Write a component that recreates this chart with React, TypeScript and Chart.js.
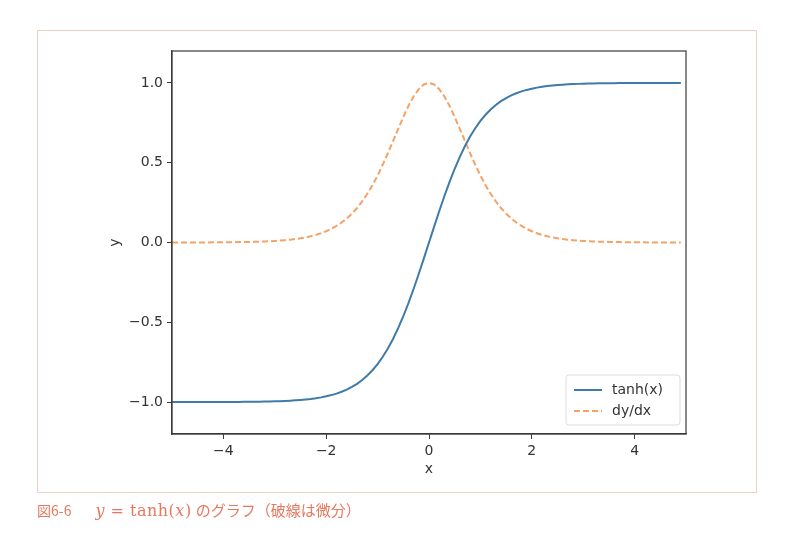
import React, { useEffect, useRef } from "react";
import { Chart, registerables } from "chart.js";

Chart.register(...registerables);

const xValues = [
  -5.0, -4.9, -4.8, -4.7, -4.6, -4.5, -4.4, -4.3, -4.2, -4.1,
  -4.0, -3.9, -3.8, -3.7, -3.6, -3.5, -3.4, -3.3, -3.2, -3.1,
  -3.0, -2.9, -2.8, -2.7, -2.6, -2.5, -2.4, -2.3, -2.2, -2.1,
  -2.0, -1.9, -1.8, -1.7, -1.6, -1.5, -1.4, -1.3, -1.2, -1.1,
  -1.0, -0.9, -0.8, -0.7, -0.6, -0.5, -0.4, -0.3, -0.2, -0.1,
  0.0, 0.1, 0.2, 0.3, 0.4, 0.5, 0.6, 0.7, 0.8, 0.9,
  1.0, 1.1, 1.2, 1.3, 1.4, 1.5, 1.6, 1.7, 1.8, 1.9,
  2.0, 2.1, 2.2, 2.3, 2.4, 2.5, 2.6, 2.7, 2.8, 2.9,
  3.0, 3.1, 3.2, 3.3, 3.4, 3.5, 3.6, 3.7, 3.8, 3.9,
  4.0, 4.1, 4.2, 4.3, 4.4, 4.5, 4.6, 4.7, 4.8, 4.9,
];

const tanhValues = [
  -0.9999, -0.9999, -0.9999, -0.9998, -0.9998, -0.9998, -0.9997, -0.9996, -0.9996, -0.9995,
  -0.9993, -0.9992, -0.999, -0.9988, -0.9985, -0.9982, -0.9978, -0.9973, -0.9967, -0.9959,
  -0.9951, -0.994, -0.9926, -0.991, -0.989, -0.9866, -0.9837, -0.9801, -0.9757, -0.9705,
  -0.964, -0.9562, -0.9468, -0.9354, -0.9217, -0.9051, -0.8854, -0.8617, -0.8337, -0.8005,
  -0.7616, -0.7163, -0.664, -0.6044, -0.537, -0.4621, -0.3799, -0.2913, -0.1974, -0.0997,
  0.0, 0.0997, 0.1974, 0.2913, 0.3799, 0.4621, 0.537, 0.6044, 0.664, 0.7163,
  0.7616, 0.8005, 0.8337, 0.8617, 0.8854, 0.9051, 0.9217, 0.9354, 0.9468, 0.9562,
  0.964, 0.9705, 0.9757, 0.9801, 0.9837, 0.9866, 0.989, 0.991, 0.9926, 0.994,
  0.9951, 0.9959, 0.9967, 0.9973, 0.9978, 0.9982, 0.9985, 0.9988, 0.999, 0.9992,
  0.9993, 0.9995, 0.9996, 0.9996, 0.9997, 0.9998, 0.9998, 0.9998, 0.9999, 0.9999,
];

const dydxValues = [
  0.0002, 0.0002, 0.0003, 0.0003, 0.0004, 0.0005, 0.0006, 0.0007, 0.0009, 0.0011,
  0.0013, 0.0016, 0.002, 0.0024, 0.003, 0.0036, 0.0045, 0.0054, 0.0066, 0.0081,
  0.0099, 0.012, 0.0147, 0.0179, 0.0218, 0.0266, 0.0323, 0.0394, 0.0479, 0.0582,
  0.0707, 0.0856, 0.1035, 0.125, 0.1505, 0.1807, 0.216, 0.2574, 0.305, 0.3592,
  0.42, 0.4869, 0.5591, 0.6347, 0.7116, 0.7864, 0.8556, 0.9151, 0.961, 0.9901,
  1.0, 0.9901, 0.961, 0.9151, 0.8556, 0.7864, 0.7116, 0.6347, 0.5591, 0.4869,
  0.42, 0.3592, 0.305, 0.2574, 0.216, 0.1807, 0.1505, 0.125, 0.1035, 0.0856,
  0.0707, 0.0582, 0.0479, 0.0394, 0.0323, 0.0266, 0.0218, 0.0179, 0.0147, 0.012,
  0.0099, 0.0081, 0.0066, 0.0054, 0.0045, 0.0036, 0.003, 0.0024, 0.002, 0.0016,
  0.0013, 0.0011, 0.0009, 0.0007, 0.0006, 0.0005, 0.0004, 0.0003, 0.0003, 0.0002,
];

const seriesLabels = ["tanh(x)", "dy/dx"];
const xTicks = [-4, -2, 0, 2, 4];
const yTicks = [-1.0, -0.5, 0.0, 0.5, 1.0];

const BLUE = "#3f7aa8";
const ORANGE = "#f4a266";
const AXIS = "#3a3a3a";
const TEXT = "#333333";
const FONT = "'DejaVu Sans', sans-serif";

const fmt = (v: number, d: number) => {
  const s = Math.abs(v).toFixed(d);
  return v < 0 ? "\u2212" + s : s;
};

const boxPlugin = {
  id: "boxAndLegend",
  afterDraw(chart: any) {
    const { ctx, chartArea } = chart;
    const { left, right, top, bottom } = chartArea;
    ctx.save();
    ctx.strokeStyle = AXIS;
    ctx.lineWidth = 1.2;
    ctx.strokeRect(left, top, right - left, bottom - top);

    // legend box (lower right)
    const bw = 114;
    const bh = 50;
    const bx = right - 120;
    const by = bottom - 59;
    ctx.fillStyle = "rgba(255,255,255,0.85)";
    ctx.strokeStyle = "#dddddd";
    ctx.lineWidth = 1;
    const r = 3;
    ctx.beginPath();
    ctx.moveTo(bx + r, by);
    ctx.lineTo(bx + bw - r, by);
    ctx.quadraticCurveTo(bx + bw, by, bx + bw, by + r);
    ctx.lineTo(bx + bw, by + bh - r);
    ctx.quadraticCurveTo(bx + bw, by + bh, bx + bw - r, by + bh);
    ctx.lineTo(bx + r, by + bh);
    ctx.quadraticCurveTo(bx, by + bh, bx, by + bh - r);
    ctx.lineTo(bx, by + r);
    ctx.quadraticCurveTo(bx, by, bx + r, by);
    ctx.closePath();
    ctx.fill();
    ctx.stroke();

    const ds = chart.data.datasets;
    ds.forEach((d: any, i: number) => {
      const ly = by + 15 + i * 21;
      ctx.strokeStyle = d.borderColor;
      ctx.lineWidth = 2;
      ctx.setLineDash(d.borderDash || []);
      ctx.beginPath();
      ctx.moveTo(bx + 8, ly);
      ctx.lineTo(bx + 36, ly);
      ctx.stroke();
      ctx.setLineDash([]);
      ctx.fillStyle = TEXT;
      ctx.font = `14px ${FONT}`;
      ctx.textBaseline = "middle";
      ctx.textAlign = "left";
      ctx.fillText(d.label, bx + 46, ly);
    });
    ctx.restore();
  },
};

export default function App() {
  const ref = useRef<HTMLCanvasElement | null>(null);

  useEffect(() => {
    if (!ref.current) return;
    const tanhData = xValues.map((x, i) => ({ x, y: tanhValues[i] }));
    const dData = xValues.map((x, i) => ({ x, y: dydxValues[i] }));
    const chart = new Chart(ref.current, {
      type: "line",
      data: {
        datasets: [
          {
            label: seriesLabels[0],
            data: tanhData,
            borderColor: BLUE,
            borderWidth: 2,
            pointRadius: 0,
            tension: 0,
            fill: false,
          },
          {
            label: seriesLabels[1],
            data: dData,
            borderColor: ORANGE,
            borderWidth: 2,
            borderDash: [6, 3],
            pointRadius: 0,
            tension: 0,
            fill: false,
          },
        ],
      },
      options: {
        animation: false,
        responsive: false,
        maintainAspectRatio: false,
        layout: { padding: { left: 100, top: 51, right: 108, bottom: 65 } },
        plugins: {
          legend: { display: false },
          tooltip: { enabled: false },
        },
        scales: {
          x: {
            type: "linear",
            min: -5,
            max: 5,
            afterFit: (s: any) => {
              s.height = 44;
            },
            afterBuildTicks: (s: any) => {
              s.ticks = xTicks.map((v) => ({ value: v }));
            },
            ticks: {
              color: TEXT,
              font: { family: FONT, size: 14 },
              padding: 4,
              maxRotation: 0,
              callback: (v: any) => fmt(Number(v), 0),
            },
            grid: {
              display: true,
              drawOnChartArea: false,
              drawTicks: true,
              tickLength: 5,
              color: AXIS,
            },
            border: { display: true, color: AXIS, width: 1.2 },
            title: {
              display: true,
              text: "x",
              color: TEXT,
              font: { family: FONT, size: 14 },
              padding: { top: 2, bottom: 0 },
            },
          },
          y: {
            type: "linear",
            min: -1.2,
            max: 1.2,
            afterFit: (s: any) => {
              s.width = 72;
            },
            afterBuildTicks: (s: any) => {
              s.ticks = yTicks.map((v) => ({ value: v }));
            },
            ticks: {
              color: TEXT,
              font: { family: FONT, size: 14 },
              padding: 4,
              callback: (v: any) => fmt(Number(v), 1),
            },
            grid: {
              display: true,
              drawOnChartArea: false,
              drawTicks: true,
              tickLength: 5,
              color: AXIS,
            },
            border: { display: true, color: AXIS, width: 1.2 },
            title: {
              display: true,
              text: "y",
              color: TEXT,
              font: { family: FONT, size: 14 },
              padding: { top: 7, bottom: 4 },
            },
          },
        },
      },
      plugins: [boxPlugin],
    });
    return () => chart.destroy();
  }, []);

  return (
    <div
      style={{
        position: "absolute",
        left: 0,
        top: 0,
        width: 794,
        height: 543,
        background: "#ffffff",
        overflow: "hidden",
      }}
    >
      <div
        style={{
          position: "absolute",
          left: 37,
          top: 30,
          width: 720,
          height: 463,
          border: "1px solid #efcfc2",
          boxSizing: "border-box",
        }}
      />
      <canvas
        ref={ref}
        width={794}
        height={543}
        style={{ position: "absolute", left: 0, top: 0, width: 794, height: 543 }}
      />
      <div
        style={{
          position: "absolute",
          left: 37,
          top: 500,
          fontSize: 14,
          color: "#e8775f",
          fontFamily: "'Noto Sans CJK JP', sans-serif",
          whiteSpace: "nowrap",
          lineHeight: "20px",
        }}
      >
        <span>図6-6</span>
        <span
          style={{
            marginLeft: 24,
            fontSize: 16,
            letterSpacing: 0.5,
            fontFamily: "'DejaVu Serif', 'Liberation Serif', serif",
          }}
        >
          <i>y</i> = tanh(<i>x</i>)
        </span>
        <span style={{ marginLeft: 4, fontSize: 15 }}>のグラフ（破線は微分）</span>
      </div>
    </div>
  );
}
